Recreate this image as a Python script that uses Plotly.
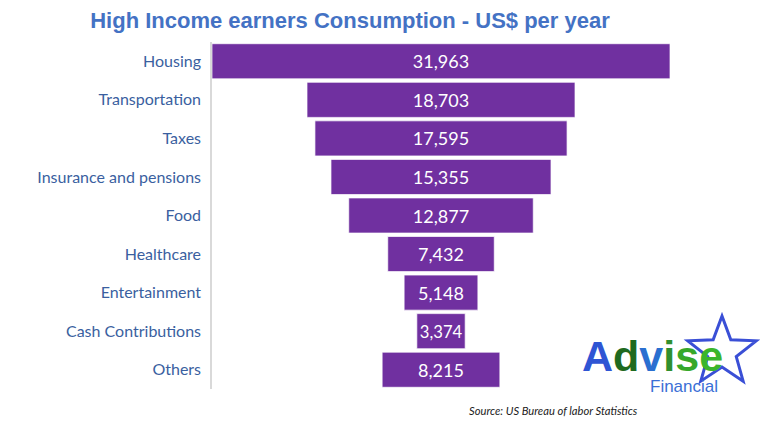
import math
import plotly.graph_objects as go

categories = ["Housing", "Transportation", "Taxes", "Insurance and pensions", "Food",
              "Healthcare", "Entertainment", "Cash Contributions", "Others"]
values = [31963, 18703, 17595, 15355, 12877, 7432, 5148, 3374, 8215]

title_text = "High Income earners Consumption - US$ per year"
source_text = "Source: US Bureau of labor Statistics"

W, H = 768, 424
OFF = 8  # page body margin offset
# target plot area in screen pixels
left_s, right_s, top_s, bottom_s = 212, 700, 42, 389
ml, mt = left_s - OFF, top_s - OFF
mr, mb = W - right_s + OFF, H - bottom_s + OFF
plot_w = right_s - left_s
plot_h = bottom_s - top_s
center_px = 441 - left_s
units_per_px = (max(values) / 2) / center_px
x_lo = -max(values) / 2
x_hi = x_lo + plot_w * units_per_px


def px(x):
    return (x - left_s) / plot_w


def py(y):
    return (bottom_s - y) / plot_h


fig = go.Figure(go.Funnel(
    y=categories,
    x=values,
    texttemplate="%{x:,}",
    textposition="inside",
    insidetextfont=dict(family="Lato", size=18, color="white"),
    marker=dict(color="#7030A0", line=dict(color="rgba(255,255,255,0.7)", width=1)),
    connector=dict(visible=False),
    hoverinfo="y+x",
))

fig.update_layout(
    width=W, height=H,
    margin=dict(l=ml, r=mr, t=mt, b=mb),
    paper_bgcolor="white", plot_bgcolor="white",
    funnelgap=0.09,
    showlegend=False,
    title=dict(text="<b>" + title_text + "</b>", xref="container", x=(350 - OFF) / W, xanchor="center",
               y=1 - (20 - OFF) / H, yanchor="middle",
               font=dict(family="Liberation Sans", size=22, color="#4472C4")),
    xaxis=dict(range=[x_lo, x_hi], visible=False, fixedrange=True),
    yaxis=dict(showline=True, linecolor="#d9d9d9", linewidth=1.5, showgrid=False,
               ticks="outside", ticklen=6, tickcolor="rgba(0,0,0,0)",
               tickfont=dict(family="Lato", size=16, color="#3A5FA0"),
               autorange="reversed"),
)

# Source note
fig.add_annotation(text="<i>" + source_text + "</i>", xref="paper", yref="paper",
                   x=px(553), y=py(410), xanchor="center", yanchor="middle", showarrow=False,
                   font=dict(family="Lato", size=11.2, color="#222222"))

# Logo: star outline (decorative shape) + text
cx, cy, r_out, r_in = 722, 352, 36, 15
pts = []
for k in range(10):
    ang = -math.pi / 2 + k * math.pi / 5
    r = r_out if k % 2 == 0 else r_in
    pts.append((px(cx + r * math.cos(ang)), py(cy + r * math.sin(ang))))
path = "M " + " L ".join(f"{a:.4f},{b:.4f}" for a, b in pts) + " Z"
fig.add_shape(type="path", path=path, xref="paper", yref="paper",
              line=dict(color="#3a4fd6", width=3), fillcolor="rgba(0,0,0,0)", layer="below")

fig.add_annotation(text=("<b><span style='color:#2f55d4'>A</span>"
                         "<span style='color:#1f6a1f'>d</span>"
                         "<span style='color:#2a6fd0'>v</span>"
                         "<span style='color:#2f8f2f'>i</span>"
                         "<span style='color:#36a82a'>s</span>"
                         "<span style='color:#3bb52c'>e</span></b>"),
                   xref="paper", yref="paper", x=px(652), y=py(356),
                   xanchor="center", yanchor="middle", showarrow=False,
                   font=dict(family="Liberation Sans", size=43))
fig.add_annotation(text="Financial", xref="paper", yref="paper", x=px(684), y=py(386),
                   xanchor="center", yanchor="middle", showarrow=False,
                   font=dict(family="Liberation Sans", size=17, color="#3b6fd6"))

fig.write_html("out.html")
